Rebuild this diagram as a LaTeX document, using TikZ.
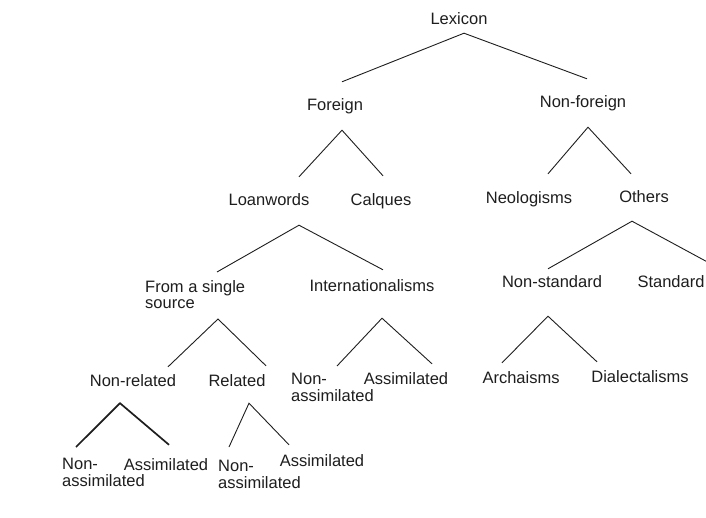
\documentclass[tikz,border=0pt]{standalone}
\usepackage{fontspec}
\setmainfont{Liberation Sans}
\usepackage{tikz}
\usetikzlibrary{positioning}
\definecolor{ink}{HTML}{1E1E1E}
\newcommand{\catfont}{\fontsize{16.5}{16.5}\selectfont}
\tikzset{%
	cat/.style      = {inner sep=0pt, text height=12pt, text depth=4pt, font=\catfont, text=ink, anchor=base}, % one line
	catml/.style    = {inner sep=0pt, align=left, font=\catfont, text=ink, anchor=north west}, % two lines
	branch/.style   = {draw=ink, line width=0.9pt},
	heavy/.style    = {draw=ink, line width=1.7pt},
}

\begin{document}
\begin{tikzpicture}[x=1pt,y=-1pt]
	\useasboundingbox (0,0) rectangle (706,518);
	\fill[white] (0,0) rectangle (706,518);
	
	% level 0 and 1
	\node [cat] (lexicon) at (459,25) {Lexicon};
	\node [cat] (foreign) at (335,111) {Foreign};
	\node [cat] (nonforeign) at (583,108) {Non-foreign};
	
	% level 2
	\node [cat] (loanwords) at (269,206) {Loanwords};
	\node [cat] (calques) at (381,206) {Calques};
	\node [cat] (neologisms) at (529,204) {Neologisms};
	\node [cat] (others) at (644,203) {Others};
	
	% level 3
	\node [catml] (single) at (145,280) {From a single\\source};
	\node [cat] (internat) at (372,292) {Internationalisms};
	\node [cat] (nonstandard) at (552,288) {Non-standard};
	\node [cat] (standard) at (671,288) {Standard};
	
	% level 4
	\node [cat] (nonrelated) at (133,386) {Non-related};
	\node [cat] (related) at (237,386) {Related};
	\node [catml] (intnon) at (291,373) {Non-\\assimilated};
	\node [cat] (intassim) at (406,384) {Assimilated};
	\node [cat] (archaisms) at (521,383) {Archaisms};
	\node [cat] (dialectalisms) at (640,382) {Dialectalisms};
	
	% level 5
	\node [catml] (nrnon) at (62,458) {Non-\\assimilated};
	\node [cat] (nrassim) at (166,470) {Assimilated};
	\node [catml] (rnon) at (218,460) {Non-\\assimilated};
	\node [cat] (rassim) at (322,466) {Assimilated};
	
	% branches
	\draw [branch] ([xshift=7pt,yshift=17pt]foreign.north) -- ([xshift=5pt,yshift=-4pt]lexicon.south) -- ([xshift=4pt,yshift=17pt]nonforeign.north);
	\draw [branch] ([xshift=30pt,yshift=17pt]loanwords.north) -- ([xshift=7pt,yshift=-15pt]foreign.south) -- ([xshift=2pt,yshift=18pt]calques.north);
	\draw [branch] ([xshift=19pt,yshift=18pt]neologisms.north) -- ([xshift=5pt,yshift=-15pt]nonforeign.south) -- ([xshift=-13pt,yshift=17pt]others.north);
	\draw [branch] ([xshift=72pt,yshift=8pt]single.north west) -- ([xshift=30pt,yshift=-15pt]loanwords.south) -- ([xshift=11pt,yshift=10pt]internat.north);
	\draw [branch] ([xshift=-4pt,yshift=7pt]nonstandard.north) -- ([xshift=-12pt,yshift=-14pt]others.south) -- ([xshift=49pt,yshift=7pt]standard.north);
	\draw [branch] ([xshift=35pt,yshift=7pt]nonrelated.north) -- ([xshift=73pt,yshift=-10pt]single.south west) -- ([xshift=29pt,yshift=8pt]related.north);
	\draw [branch] ([xshift=46pt,yshift=7pt]intnon.north west) -- ([xshift=10pt,yshift=-22pt]internat.south) -- ([xshift=26pt,yshift=8pt]intassim.north);
	\draw [branch] ([xshift=-19pt,yshift=8pt]archaisms.north) -- ([xshift=-4pt,yshift=-24pt]nonstandard.south) -- ([xshift=-43pt,yshift=8pt]dialectalisms.north);
	\draw [heavy] ([xshift=14pt,yshift=11pt]nrnon.north west) -- ([xshift=-13pt,yshift=-13pt]nonrelated.south) -- ([xshift=3pt,yshift=13pt]nrassim.north);
	\draw [branch] ([xshift=11pt,yshift=13pt]rnon.north west) -- ([xshift=12pt,yshift=-13pt]related.south) -- ([xshift=-33pt,yshift=9pt]rassim.north);
\end{tikzpicture}
\end{document}
